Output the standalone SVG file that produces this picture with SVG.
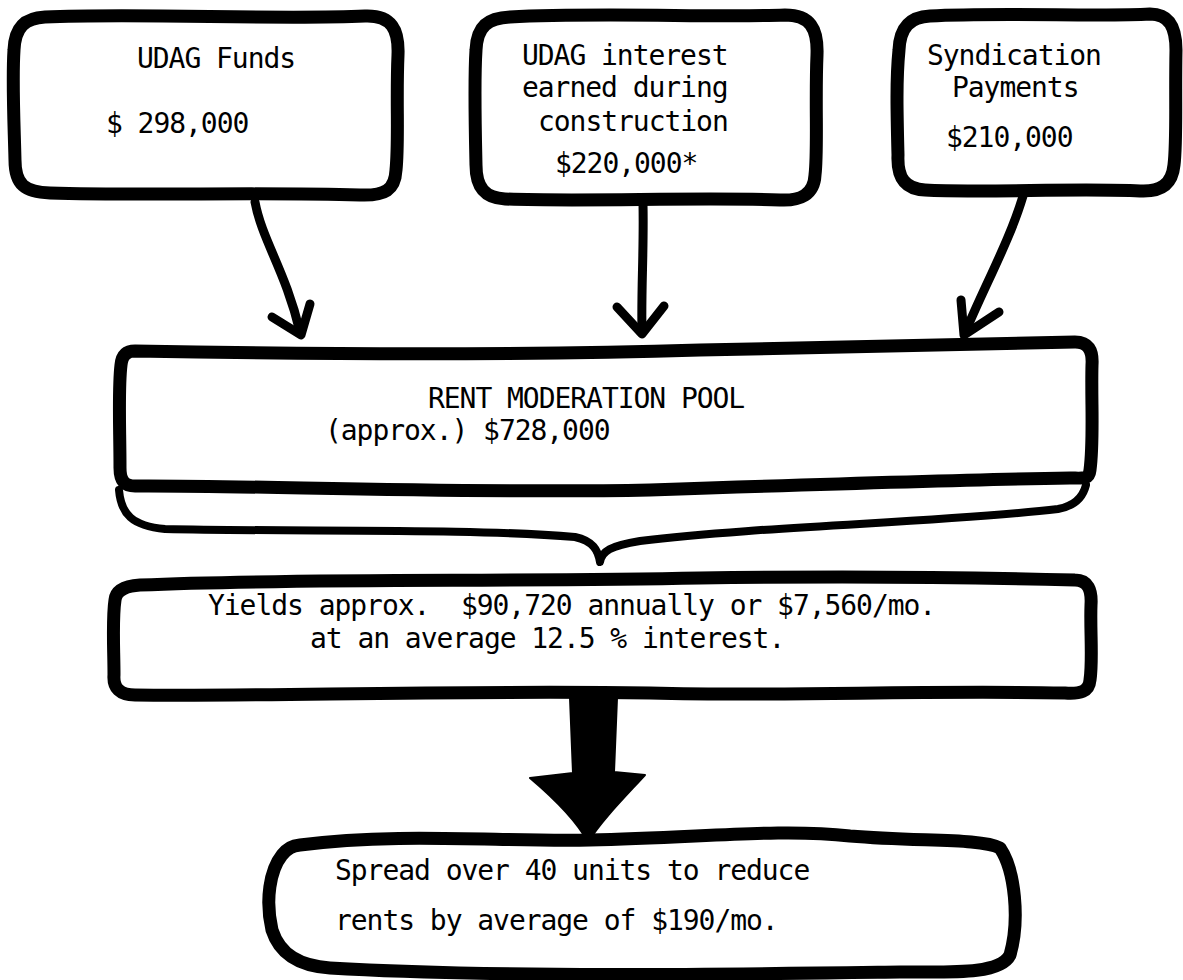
<svg xmlns="http://www.w3.org/2000/svg" width="1183" height="980" viewBox="0 0 1183 980">
<style>
.box{fill:#fff;stroke:#000;stroke-width:13;stroke-linejoin:round;stroke-linecap:round}
.line{fill:none;stroke:#000;stroke-width:9;stroke-linejoin:round;stroke-linecap:round}
.brace{fill:none;stroke:#000;stroke-width:8;stroke-linejoin:round;stroke-linecap:round}
.big{fill:#000;stroke:#000;stroke-width:2;stroke-linejoin:round}
.t{font-family:"DejaVu Sans Mono","Liberation Mono",monospace;font-size:28px;letter-spacing:-1.05px;fill:#000}
</style>
<rect width="1183" height="980" fill="#fff"/>
<g id="udag-funds">
<path class="box" d="M 45,17 C 140,13 280,20 365,16 C 392,15 399,30 398,55 C 396,100 399,140 396,170 C 395,190 385,196 360,195 C 260,192 140,196 50,193 C 25,192 15,185 15,160 C 14,120 12,80 14,50 C 15,27 25,18 45,17 Z"/>
<text class="t" x="137" y="68">UDAG Funds</text>
<text class="t" x="106" y="133">$ 298,000</text>
</g>
<g id="udag-interest">
<path class="box" d="M 510,17 C 600,12 720,18 785,15 C 810,15 818,28 817,55 C 815,100 818,150 815,175 C 814,195 800,201 780,200 C 700,197 580,202 505,199 C 485,198 476,188 476,165 C 475,120 474,80 476,50 C 477,26 488,18 510,17 Z"/>
<text class="t" x="522" y="65">UDAG interest</text>
<text class="t" x="522" y="97">earned during</text>
<text class="t" x="538" y="131">construction</text>
<text class="t" x="555" y="173">$220,000*</text>
</g>
<g id="syndication">
<path class="box" d="M 930,16 C 1000,12 1100,17 1150,14 C 1170,14 1176,28 1176,50 C 1175,100 1177,140 1174,165 C 1172,185 1160,192 1140,191 C 1080,188 980,193 925,190 C 905,189 897,178 898,155 C 897,115 896,80 899,50 C 900,27 910,17 930,16 Z"/>
<text class="t" x="927" y="65">Syndication</text>
<text class="t" x="952" y="97">Payments</text>
<text class="t" x="946" y="147">$210,000</text>
</g>
<g id="pool">
<path class="box" d="M 135,351 C 300,354 500,356 700,350 C 850,346 1000,343 1075,342 C 1088,342 1093,350 1092,365 C 1091,400 1094,440 1090,470 C 1089,480 1082,478 1070,478 C 950,480 800,485 650,490 C 450,494 250,485 135,486 C 124,486 120,480 120,468 C 120,430 118,390 121,365 C 122,355 127,351 135,351 Z"/>
<text class="t" x="428" y="408">RENT MODERATION POOL</text>
<text class="t" x="325" y="440">(approx.) $728,000</text>
</g>
<g id="yields">
<path class="box" d="M 140,585 C 300,578 500,582 700,578 C 850,576 1000,578 1075,580 C 1088,580 1092,590 1091,605 C 1090,630 1093,660 1090,680 C 1089,692 1080,694 1065,693 C 900,690 800,697 650,693 C 450,690 250,697 135,695 C 120,695 113,688 114,675 C 114,650 112,620 115,600 C 116,590 125,586 140,585 Z"/>
<text class="t" x="208" y="615" xml:space="preserve">Yields approx.  $90,720 annually or $7,560/mo.</text>
<text class="t" x="310" y="648">at an average 12.5 % interest.</text>
</g>
<g id="spread">
<path class="box" d="M 300,845 C 400,832 500,842 590,840 C 700,838 780,828 850,836 C 920,842 980,838 1000,848 C 1015,870 1020,920 1010,955 C 1000,975 950,972 900,972 C 750,974 500,978 330,968 C 300,966 280,955 272,930 C 265,900 270,870 282,855 C 288,848 292,846 300,845 Z"/>
<text class="t" x="335" y="880">Spread over 40 units to reduce</text>
<text class="t" x="335" y="930">rents by average of $190/mo.</text>
</g>
<g id="connectors">
<path class="line" d="M 255,202 C 262,240 286,272 300,332"/>
<path class="line" d="M 272,317 L 301,335 L 310,304"/>
<path class="line" d="M 643,204 C 644,250 641,290 642,332"/>
<path class="line" d="M 617,307 L 642,334 L 664,306"/>
<path class="line" d="M 1023,196 C 1010,240 985,285 965,333"/>
<path class="line" d="M 961,300 L 964,335 L 999,312"/>
<path class="brace" d="M 119,490 C 121,514 132,526 165,529 C 300,532 470,528 575,537 C 593,541 598,550 600,562 C 602,551 610,546 640,541 C 760,526 950,522 1058,509 C 1075,506 1083,497 1086,485"/>
<path class="big" d="M 570,698 L 617,698 L 614,772 L 645,775 C 622,800 602,820 588,842 C 576,820 556,800 530,778 L 573,773 Z"/>
</g>
</svg>
